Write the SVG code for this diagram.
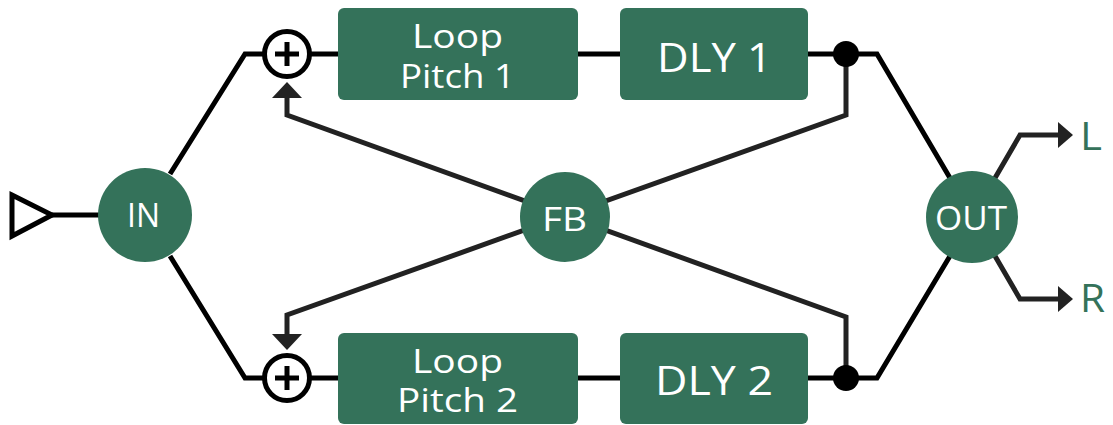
<svg xmlns="http://www.w3.org/2000/svg" width="1113" height="425" viewBox="0 0 1113 425">
<style>
.w{stroke:#000;stroke-width:5;fill:none;stroke-linejoin:miter}
.fb{stroke:#222;stroke-width:5;fill:none;stroke-linejoin:miter}
.box{fill:#34725a}
.t{font-family:"Open Sans","Lato",sans-serif;fill:#fff;font-weight:500}
.lab{font-family:"Open Sans","Lato",sans-serif;fill:#34725a;font-size:38px;font-weight:500}
</style>
<g id="connectors">
<path class="w" d="M52,215 H100"/>
<path class="w" d="M170,174 L245,54 H338"/>
<path class="w" d="M170,256 L245,378 H338"/>
<path class="w" d="M578,54 H620"/>
<path class="w" d="M578,378 H620"/>
<path class="w" d="M808,54 H877 L950,178"/>
<path class="w" d="M808,378 H877 L950,256"/>
<path class="fb" d="M846,54 V115 L287,315 V334"/>
<path class="fb" d="M846,378 V317 L287,115 V98"/>
<path d="M287,82 L302,98 H272 z" fill="#222"/>
<path d="M287,350 L302,334 H272 z" fill="#222"/>
<path class="fb" d="M995,178 L1020,135 H1058"/>
<path class="fb" d="M995,256 L1020,299 H1058"/>
<path d="M1073,135 L1058,122 V148 z" fill="#222"/>
<path d="M1073,299 L1058,286 V312 z" fill="#222"/>
<circle cx="846" cy="54" r="13" fill="#000"/>
<circle cx="846" cy="378" r="13" fill="#000"/>
</g>
<g id="input">
<path d="M12,195 L52,215 L12,236 z" fill="#fff" stroke="#000" stroke-width="5" stroke-linejoin="miter"/>
</g>
<g id="in">
<circle cx="145" cy="215" r="47" class="box"/>
<text x="127" y="227" class="t" font-size="33" textLength="33" lengthAdjust="spacingAndGlyphs">IN</text>
</g>
<g id="sum1">
<circle cx="287" cy="54" r="22.5" fill="#fff" stroke="#000" stroke-width="5"/>
<path d="M287,42 V66 M275,54 H299" stroke="#000" stroke-width="5"/>
</g>
<g id="sum2">
<circle cx="287" cy="378" r="22.5" fill="#fff" stroke="#000" stroke-width="5"/>
<path d="M287,366 V390 M275,378 H299" stroke="#000" stroke-width="5"/>
</g>
<g id="lp1">
<rect x="338" y="8" width="240" height="92" rx="6" class="box"/>
<text x="412" y="48" class="t" font-size="32" textLength="91" lengthAdjust="spacingAndGlyphs">Loop</text>
<text x="400" y="88" class="t" font-size="32" textLength="115" lengthAdjust="spacingAndGlyphs">Pitch 1</text>
</g>
<g id="dly1">
<rect x="620" y="8" width="188" height="92" rx="6" class="box"/>
<text x="657" y="72" class="t" font-size="40" textLength="115" lengthAdjust="spacingAndGlyphs">DLY 1</text>
</g>
<g id="lp2">
<rect x="338" y="333" width="240" height="91" rx="6" class="box"/>
<text x="412" y="373" class="t" font-size="32" textLength="91" lengthAdjust="spacingAndGlyphs">Loop</text>
<text x="397" y="412" class="t" font-size="32" textLength="121" lengthAdjust="spacingAndGlyphs">Pitch 2</text>
</g>
<g id="dly2">
<rect x="620" y="333" width="188" height="91" rx="6" class="box"/>
<text x="655" y="395" class="t" font-size="40" textLength="118" lengthAdjust="spacingAndGlyphs">DLY 2</text>
</g>
<g id="fbn">
<circle cx="565" cy="217" r="45" class="box"/>
<text x="542" y="231" class="t" font-size="33" textLength="45" lengthAdjust="spacingAndGlyphs">FB</text>
</g>
<g id="out">
<circle cx="972" cy="217" r="46" class="box"/>
<text x="935" y="230" class="t" font-size="32" textLength="72" lengthAdjust="spacingAndGlyphs">OUT</text>
</g>
<g id="labels">
<text x="1080" y="150" class="lab" textLength="22" lengthAdjust="spacingAndGlyphs">L</text>
<text x="1080" y="312" class="lab" textLength="25" lengthAdjust="spacingAndGlyphs">R</text>
</g>
</svg>
